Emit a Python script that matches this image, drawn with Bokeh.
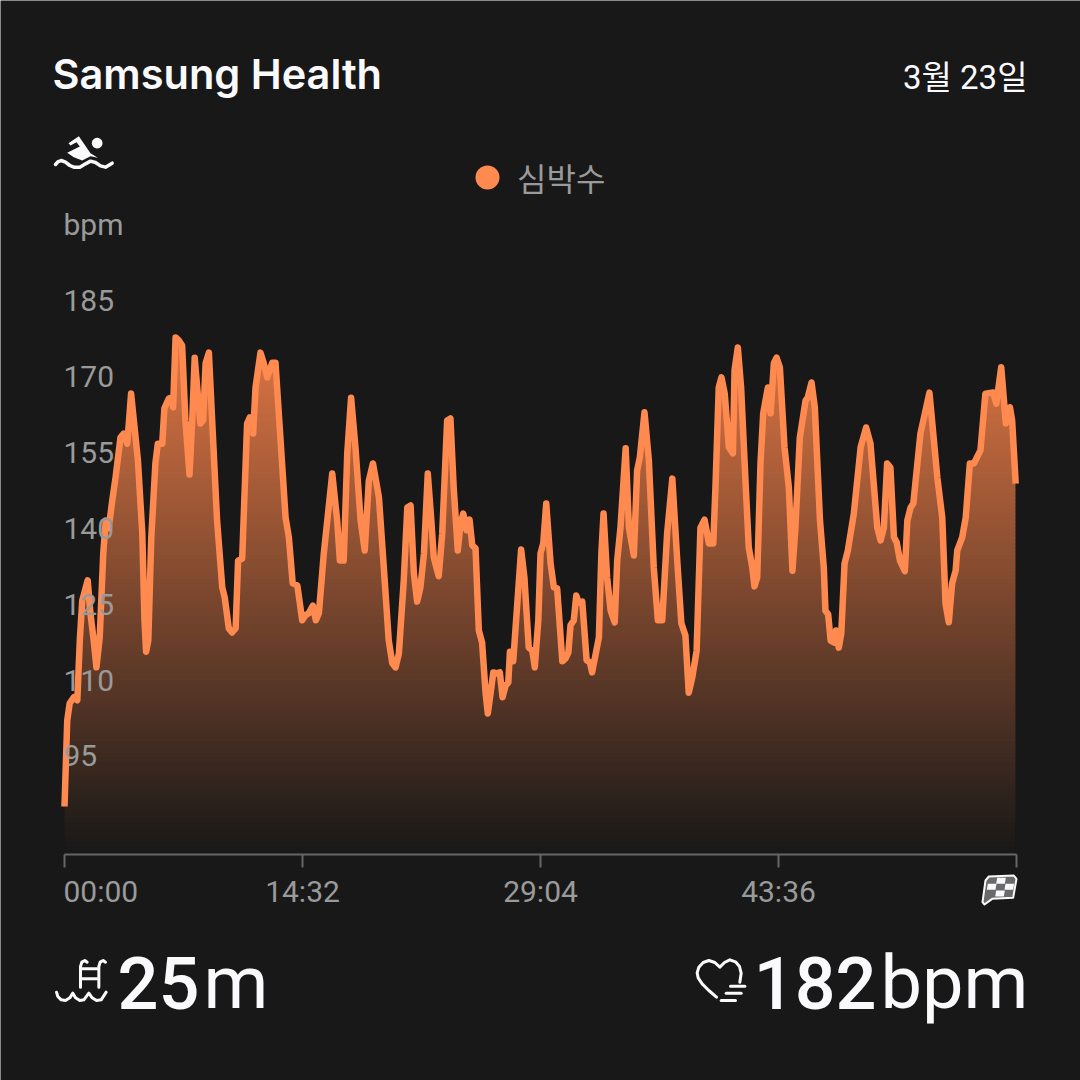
from bokeh.plotting import figure
from bokeh.embed import file_html
from bokeh.resources import INLINE
from bokeh.models import Range1d, FixedTicker, LinearAxis, Legend, LegendItem
from bokeh.core.properties import value
import math

# ---- data ----
times = [0,10,19,34,47,56,65,85,95,107,117,129,142,151,162,175,187,205,217,230,244,254,269,285,293,299,307,318,333,342,358,366,382,392,398,407,419,431,443,458,468,477,488,498,508,517,529,541,559,578,587,602,614,627,636,651,669,679,691,700,718,730,743,761,773,791,810,822,836,853,871,883,895,910,921,932,950,981,999,1009,1023,1036,1050,1066,1085,1100,1115,1130,1146,1152,1170,1188,1201,1213,1225,1243,1256,1268,1280,1292,1304,1317,1331,1344,1353,1371,1384,1402,1414,1426,1441,1451,1461,1473,1484,1494,1506,1518,1530,1543,1551,1561,1571,1583,1595,1605,1616,1626,1632,1644,1659,1673,1685,1701,1714,1723,1736,1744,1754,1765,1781,1793,1805,1824,1836,1846,1854,1866,1875,1884,1897,1913,1925,1933,1958,1967,1975,1988,2001,2016,2025,2037,2056,2068,2086,2098,2108,2125,2141,2159,2174,2190,2208,2227,2245,2260,2275,2287,2300,2316,2330,2345,2361,2377,2385,2397,2407,2419,2434,2449,2455,2467,2479,2495,2507,2520,2528,2538,2550,2560,2577,2587,2599,2609,2621,2638,2654,2667,2678,2694,2715,2723,2737,2749,2768,2782,2788,2798,2807,2821,2827,2837,2846,2858,2870,2892,2917,2937,2953,2978,2990,3002,3014,3026,3039,3049,3061,3079,3088,3100,3110,3136,3169,3198,3216,3228,3240,3252,3265,3271,3289,3302,3317,3332,3356,3374,3403,3414,3432,3449,3464,3472,3485]
heart_rate = [85.0,102.0,105.4,106.6,106.0,117.8,125.7,129.7,123.2,117.8,112.5,118.4,135.0,141.5,140.0,145.5,150.0,157.9,158.7,156.7,166.6,161.3,153.4,139.0,121.8,115.6,117.8,138.2,152.8,156.7,156.7,163.7,165.6,165.8,163.9,177.7,177.1,176.1,161.3,150.6,161.3,173.7,166.6,160.7,161.3,172.6,174.7,161.3,141.5,128.3,126.3,120.2,119.4,120.2,133.6,134.0,160.7,161.9,158.7,167.8,174.7,172.6,169.8,172.7,172.7,157.9,142.1,138.2,129.1,128.7,121.8,122.8,123.2,124.7,121.8,123.2,135.0,150.8,141.5,133.6,133.6,154.8,165.8,156.0,141.5,135.6,149.4,152.8,148.0,146.1,132.2,117.8,113.3,112.5,115.2,129.7,144.1,144.5,131.1,125.5,128.3,135.0,150.8,141.5,134.2,130.5,139.0,161.3,161.7,148.0,135.6,140.9,142.9,139.6,141.7,136.6,136.0,119.8,117.4,107.3,103.4,107.3,111.5,111.3,111.5,106.6,108.9,109.5,115.6,113.7,125.1,135.8,130.3,116.4,115.8,112.5,121.8,135.0,137.0,144.9,133.0,128.3,128.1,113.7,114.3,115.4,120.8,121.8,126.7,125.3,125.5,113.9,113.5,111.5,118.4,135.0,142.9,130.3,123.7,121.4,133.6,140.1,155.8,140.1,134.6,151.4,154.0,162.9,153.4,132.2,121.8,121.8,139.0,149.8,133.6,121.2,118.8,107.5,110.5,115.8,140.1,141.7,137.0,137.0,148.0,167.8,169.8,166.6,156.0,154.8,171.2,175.7,167.8,149.4,136.2,132.2,128.5,130.3,152.8,162.7,167.8,162.7,172.6,173.7,171.8,156.0,148.0,131.6,140.1,157.9,165.2,165.8,168.8,163.9,141.5,132.2,123.7,123.0,117.8,117.4,119.8,116.4,119.2,133.0,135.6,142.9,156.0,159.9,156.7,140.1,137.6,140.1,152.8,152.0,138.2,137.2,133.6,131.5,141.5,144.1,144.9,158.7,166.8,150.0,142.1,125.1,121.4,129.1,131.6,135.6,138.2,142.1,152.8,152.8,155.4,166.6,166.8,164.6,171.8,160.7,163.9,161.3,148.8]
y_ticks = [185, 170, 155, 140, 125, 110, 95]
x_ticks = [0, 872, 1744, 2616, 3488]
x_tick_labels = ["00:00", "14:32", "29:04", "43:36", ""]

BG = "#181818"
LINE = "#FF8A50"
GREY = "#9A9A9A"
AXIS = "#666666"
WHITE = "#FAFAFC"

# page pixel <-> data
SEC_PER_PX = 3488 / 952
PX_PER_BPM = 5.06
def X(px): return (px - 64) * SEC_PER_PX
def Y(py): return 185 - (py - 300) / PX_PER_BPM

p = figure(width=1080, height=1080, output_backend="svg", toolbar_location=None,
           x_range=Range1d(X(0), X(1080)), y_range=Range1d(Y(1080), Y(0)),
           x_axis_location=None, y_axis_location=None,
           min_border=0, background_fill_color=BG, border_fill_color=BG, outline_line_color=None)
p.grid.visible = False

ax = LinearAxis(fixed_location=Y(854), bounds=(0, 3488))
ax.ticker = FixedTicker(ticks=x_ticks)
ax.major_label_overrides = {t: l for t, l in zip(x_ticks, x_tick_labels)}
ax.major_label_overrides[0] = ""
ax.axis_line_color = AXIS
ax.axis_line_width = 2
ax.major_tick_line_color = AXIS
ax.major_tick_line_width = 2
ax.major_tick_in = 0
ax.major_tick_out = 13
ax.minor_tick_line_color = None
ax.major_label_standoff = 6
ax.major_label_text_font = "Roboto"
ax.major_label_text_font_size = "30px"
ax.major_label_text_color = GREY
p.add_layout(ax, "below")

# vertical gradient under the curve
GRAD_TOP = (222, 118, 68)
GRAD_BOT = (24, 24, 24)
N = 128
py_top, py_bot = 340, 854
band = (py_bot - py_top) / (N - 1)
bots, tops, cols = [], [], []
for i in range(N):
    f = i / (N - 1)
    py = py_bot - f * (py_bot - py_top)
    bots.append(Y(py))
    tops.append(Y(py - band - 1))
    c = [round(GRAD_BOT[k] + f * (GRAD_TOP[k] - GRAD_BOT[k])) for k in range(3)]
    cols.append("#%02x%02x%02x" % tuple(c))
p.quad(left=0, right=times[-1], bottom=bots, top=tops, fill_color=cols, line_color=None)
# the area above the curve goes back to the background
p.varea(x=[-50] + times + [times[-1], 3600], y1=[heart_rate[0]] + heart_rate + [Y(860), Y(860)],
        y2=Y(320), fill_color=BG)
p.line(times, heart_rate, line_color=LINE, line_width=6.5, line_join="round")

p.text(x=[0] * len(y_ticks), y=y_ticks, text=[str(v) for v in y_ticks], x_offset=-1,
       text_font=value("Roboto"), text_font_size="30px", text_color=GREY,
       text_align="left", text_baseline="middle")

# legend
dot = p.scatter(x=[0], y=[Y(1200)], marker="circle", size=24, fill_color=LINE, line_color=None)
leg = Legend(items=[LegendItem(label="심박수", renderers=[dot])], location=(457, 873),
             glyph_width=60, glyph_height=60, label_standoff=-1, margin=0, padding=0, spacing=0,
             background_fill_alpha=0, border_line_color=None,
             label_text_font="Noto Sans CJK KR", label_text_font_size="32px",
             label_text_color=GREY, label_text_baseline="middle")
p.add_layout(leg, "center")

def lab(px, py, text, size, color=WHITE, font="Roboto", align="left", style="normal"):
    p.text(x=[X(px)], y=[Y(py)], text=[text], text_font=value(font), text_font_size=f"{size}px",
           text_color=color, text_align=align, text_baseline="middle", text_font_style=style)

lab(52, 73, "Samsung Health", 41.5, font="'Inter SemiBold', Inter")
lab(1027, 77, "3월 23일", 33, font="Roboto, 'Noto Sans CJK KR'", align="right")
lab(63, 224, "bpm", 30, GREY)
lab(63, 891, "00:00", 30, GREY)
lab(117, 982, "25", 72, font="'Roboto Medium', Roboto")
lab(203, 982, "m", 74)
lab(876, 982, "182", 72, font="'Roboto Medium', Roboto", align="right")
lab(1028, 982, "bpm", 74, align="right")

def poly(pts, ox, oy, fill=WHITE, line=None, lw=0):
    xs = [X(ox + a / 3) for a, b in pts]
    ys = [Y(oy + b / 3) for a, b in pts]
    p.patch(xs, ys, fill_color=fill, line_color=line, line_width=lw, line_join="round")

def stroke(pts, ox, oy, lw=3, color=WHITE):
    xs = [X(ox + a / 3) for a, b in pts]
    ys = [Y(oy + b / 3) for a, b in pts]
    p.line(xs, ys, line_color=color, line_width=lw, line_join="round", line_cap="round")

def disc(cx, cy, r, ox, oy, fill=WHITE):
    poly([(cx + r * math.cos(i * math.pi / 12), cy + r * math.sin(i * math.pi / 12)) for i in range(24)],
         ox, oy, fill=fill)

# swimmer
disc(170, 308, 16, 40, 40)
poly([(84,308),(115,287),(150,338),(172,352),(150,347),(125,360),(100,350),(80,337),(118,318),(108,305),(90,315)], 40, 40)
stroke([(45,372),(52,364),(62,360),(75,365),(88,375),(100,380),(118,380),(135,370),(150,362),(165,366),(180,376),(195,380),(215,368)], 40, 40, lw=3.5)
# pool
stroke([(120,440),(120,378),(124,365),(133,360),(140,365)], 40, 840)
stroke([(175,440),(175,378),(179,365),(188,360),(195,365)], 40, 840)
stroke([(125,385),(170,385)], 40, 840)
stroke([(125,415),(170,415)], 40, 840)
stroke([(48,455),(52,468),(62,478),(75,480),(88,472),(97,458),(105,472),(118,480),(130,478),(145,458),(155,472),(168,480),(182,478),(197,455)], 40, 840)
# heart
stroke([(108,470),(85,450),(65,430),(53,412),(50,397),(55,380),(68,366),(85,360),(103,366),(118,380),(132,366),(148,358),(165,364),(177,378),(182,398),(178,425)], 680, 840)
stroke([(150,437),(193,437)], 680, 840)
stroke([(137,458),(182,458)], 680, 840)
stroke([(122,480),(165,480)], 680, 840)
# finish flag
poly([(925,108),(1000,105),(1008,115),(998,172),(935,175),(912,192),(906,185),(915,120)], 680, 840,
     fill="#6a6a6a", line=WHITE, lw=2)
for a, b in [(950,112),(975,130),(922,130),(947,150)]:
    poly([(a,b),(a+26,b),(a+23,b+18),(a-3,b+18)], 680, 840)

open("out.html", "w").write(file_html(p, INLINE))
